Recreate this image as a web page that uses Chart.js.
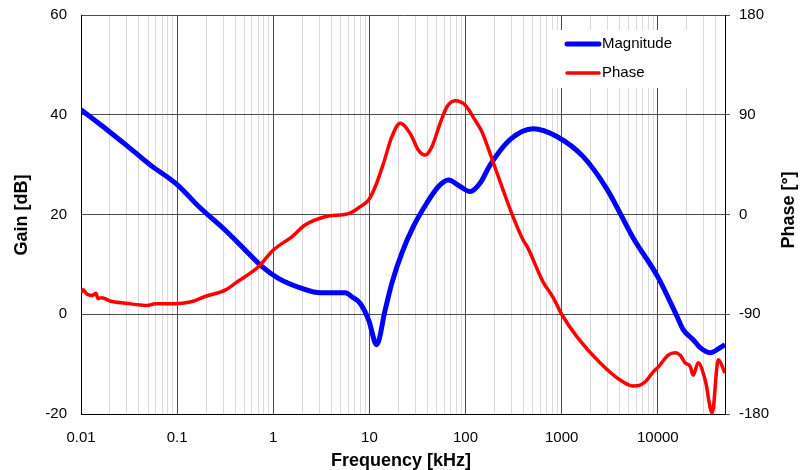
<!DOCTYPE html>
<html>
<head>
<meta charset="utf-8">
<script src="https://cdn.jsdelivr.net/npm/chart.js@4/dist/chart.umd.min.js"></script>
<style>
  body { margin: 0; background: #fff; }
  #wrap { width: 801px; height: 470px; }
</style>
</head>
<body>
<div id="wrap"><canvas id="bode" width="801" height="470"></canvas></div>
<script>
// Frequency response data
const magFreq = [0.01, 0.016, 0.03, 0.052, 0.1, 0.17, 0.315, 0.51, 0.76, 1.13, 1.98, 3.1, 5.6, 6.8, 8.0, 9.8, 11.9, 14.6, 17.1, 21.7, 28.7, 39.6, 52.3, 66.4, 87.9, 111.7, 142, 180, 290, 505, 900, 1675, 2977, 5546, 10000, 15900, 18370, 23350, 27600, 35100, 44600, 50000];
const magGain = [41.0, 38.0, 33.8, 30.0, 26.0, 21.5, 16.9, 12.9, 9.6, 7.2, 5.2, 4.3, 4.3, 3.3, 2.2, -1.1, -6.1, 0.9, 6.2, 12.2, 17.6, 22.3, 25.6, 26.9, 25.6, 24.6, 26.3, 29.9, 35.0, 37.2, 35.6, 31.6, 25.0, 15.3, 7.5, -0.5, -3.1, -5.1, -6.7, -7.7, -6.7, -6.1];

const phaseFreq = [0.01, 0.0105, 0.0116, 0.013, 0.0143, 0.015, 0.0165, 0.02, 0.029, 0.049, 0.059, 0.095, 0.136, 0.195, 0.32, 0.40, 0.70, 1.0, 1.56, 2.14, 3.46, 6.3, 8.0, 9.8, 11.5, 14.0, 17.1, 20.9, 26.5, 32.4, 38, 44.6, 54.4, 63.9, 78, 99, 126, 148, 180, 246, 313, 397, 438, 642, 816, 1000, 1450, 2517, 4060, 5546, 6560, 7400, 8960, 10100, 12820, 15170, 17100, 19280, 21730, 23350, 26300, 31120, 36800, 42560, 50000];
const phaseDeg = [-70.5, -68, -72, -73, -71, -76, -75, -78, -80, -82, -80.5, -80.6, -79, -74, -68, -62.2, -47.2, -32.1, -20.1, -9.5, -2.0, 1.3, 7, 13, 25, 46, 70, 82.3, 73.2, 58, 53.6, 61, 82.3, 97, 102.6, 98.8, 85, 74.7, 55, 22, -2.3, -23, -29, -61, -75, -90, -110.6, -134, -149.4, -154.8, -154, -151, -142, -137.7, -126.9, -124.8, -127, -134, -137, -145, -133.8, -149.4, -179, -131, -143];

// Axis ranges and tick labels
const freqDecades = [0.01, 0.1, 1, 10, 100, 1000, 10000];
const freqMax = 50000;
const gainTicks = [-20, 0, 20, 40, 60];
const phaseTicks = [-180, -90, 0, 90, 180];

const FONT = "'Liberation Sans', Arial, sans-serif";

function isDecade(v) {
  const l = Math.log10(v);
  return Math.abs(l - Math.round(l)) < 1e-9;
}

// all 1..9 x 10^n grid positions between first decade and max
function logGridValues() {
  const out = [];
  freqDecades.forEach(d => {
    for (let k = 1; k <= 9; k++) {
      const v = +(d * k).toPrecision(6);
      if (v < freqMax) out.push(v);
    }
  });
  return out;
}

// y axes: fixed width, no extra label padding above/below
function fixY(width) {
  return s => {
    s.width = width;
    s.paddingTop = 0;
    s.paddingBottom = 0;
  };
}

// Axis titles and legend box
const decorations = {
  id: 'decorations',
  afterDatasetsDraw(chart) {
    const ctx = chart.ctx;
    ctx.save();
    // legend
    ctx.fillStyle = '#fff';
    ctx.fillRect(547, 30, 141, 58);
    ctx.lineCap = 'round';
    ctx.strokeStyle = '#0000ff';
    ctx.lineWidth = 5;
    ctx.beginPath(); ctx.moveTo(567, 44); ctx.lineTo(599, 44); ctx.stroke();
    ctx.strokeStyle = '#ff0000';
    ctx.lineWidth = 3.5;
    ctx.beginPath(); ctx.moveTo(567, 73); ctx.lineTo(599, 73); ctx.stroke();
    ctx.fillStyle = '#000';
    ctx.font = '15px ' + FONT;
    ctx.textAlign = 'left';
    ctx.textBaseline = 'middle';
    ctx.fillText('Magnitude', 602, 44);
    ctx.fillText('Phase', 602, 73);

    // axis titles
    ctx.font = 'bold 18px ' + FONT;
    ctx.textAlign = 'center';
    ctx.textBaseline = 'alphabetic';
    ctx.fillText('Frequency [kHz]', 401, 466);
    ctx.textBaseline = 'middle';
    ctx.save();
    ctx.translate(22, 215);
    ctx.rotate(-Math.PI / 2);
    ctx.fillText('Gain [dB]', 0, 0);
    ctx.restore();
    ctx.save();
    ctx.translate(789, 210);
    ctx.rotate(-Math.PI / 2);
    ctx.fillText('Phase [°]', 0, 0);
    ctx.restore();
    ctx.restore();
  }
};

new Chart(document.getElementById('bode'), {
  type: 'line',
  data: {
    datasets: [
      {
        label: 'Magnitude',
        data: magFreq.map((f, i) => ({ x: f, y: magGain[i] })),
        borderColor: '#0000ff',
        borderWidth: 5,
        pointRadius: 0,
        cubicInterpolationMode: 'monotone',
        yAxisID: 'yGain',
        order: 1
      },
      {
        label: 'Phase',
        data: phaseFreq.map((f, i) => ({ x: f, y: phaseDeg[i] })),
        borderColor: '#ff0000',
        borderWidth: 3.5,
        pointRadius: 0,
        cubicInterpolationMode: 'monotone',
        yAxisID: 'yPhase',
        order: 0
      }
    ]
  },
  options: {
    responsive: false,
    animation: false,
    layout: { padding: { top: 15 } },
    plugins: {
      legend: { display: false },
      tooltip: { enabled: false }
    },
    scales: {
      x: {
        type: 'logarithmic',
        min: freqDecades[0],
        max: freqMax,
        afterBuildTicks: s => { s.ticks = logGridValues().map(v => ({ value: v, major: isDecade(v) })); },
        afterFit: s => { s.height = 56; },
        border: { color: '#000', width: 1 },
        grid: {
          drawTicks: false,
          color: c => (c.tick && isDecade(c.tick.value)) ? '#4d4d4d' : '#d9d9d9',
          lineWidth: 1
        },
        ticks: {
          autoSkip: false,
          maxRotation: 0,
          padding: 15,
          color: '#000',
          font: { family: FONT, size: 15 },
          callback: v => freqDecades.includes(v) ? String(v) : ''
        }
      },
      yGain: {
        position: 'left',
        min: gainTicks[0],
        max: gainTicks[gainTicks.length - 1],
        afterBuildTicks: s => { s.ticks = gainTicks.map(v => ({ value: v })); },
        afterFit: fixY(81),
        border: { color: '#000', width: 1 },
        grid: { drawTicks: false, color: '#4d4d4d', lineWidth: 1 },
        ticks: {
          padding: 14,
          color: '#000',
          font: { family: FONT, size: 15 }
        }
      },
      yPhase: {
        position: 'right',
        min: phaseTicks[0],
        max: phaseTicks[phaseTicks.length - 1],
        afterBuildTicks: s => { s.ticks = phaseTicks.map(v => ({ value: v })); },
        afterFit: fixY(76),
        border: { color: '#000', width: 1 },
        grid: { drawOnChartArea: false, drawTicks: true, tickLength: 5, color: '#4d4d4d' },
        ticks: {
          padding: 9,
          color: '#000',
          font: { family: FONT, size: 15 }
        }
      }
    }
  },
  plugins: [decorations]
});
</script>
</body>
</html>
